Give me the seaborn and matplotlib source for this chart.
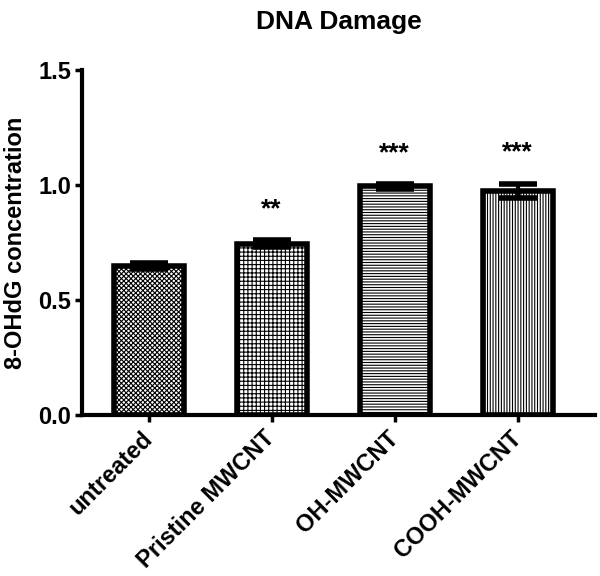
import numpy as np
import pandas as pd
import matplotlib
matplotlib.use("Agg")
import matplotlib.pyplot as plt
import seaborn as sns

# -----------------------------
# Dados
grupos = ['untreated', 'Pristine MWCNT', 'OH-MWCNT', 'COOH-MWCNT']
valores = [0.65, 0.745, 0.995, 0.975]
erros = [0.012, 0.015, 0.010, 0.032]
estrelas = ['', '**', '***', '***']
hachuras = ['xxxxxxx', '++++', '------', '||||||']

# -----------------------------
sns.set_theme(style="ticks")
plt.rcParams['font.family'] = ['Liberation Sans', 'DejaVu Sans']
plt.rcParams['hatch.linewidth'] = 0.8
for k in ['text.color', 'axes.labelcolor', 'xtick.color', 'ytick.color', 'axes.edgecolor']:
    plt.rcParams[k] = 'black'

df = pd.DataFrame({'Grupo': grupos, 'Valor': valores})

fig = plt.figure(figsize=(6, 5.76), dpi=100)
ax = fig.add_axes([0.137, 0.279, 0.855, 0.599])

sns.barplot(data=df, x='Grupo', y='Valor', color='white', width=0.57,
            edgecolor='black', linewidth=4, ax=ax)

for p, h in zip(ax.patches, hachuras):
    p.set_hatch(h)

x = np.arange(len(grupos))
ax.errorbar(x, valores, yerr=erros, fmt='none', ecolor='black',
            elinewidth=3, capsize=14, capthick=4, zorder=5)

for xi, v, e, s in zip(x, valores, erros, estrelas):
    if s:
        ax.text(xi, v + e + 0.135, s, ha='center', va='center',
                fontsize=19, fontweight='bold')

ax.set_ylim(0, 1.5)
ax.set_xlim(-0.54, 3.63)
ax.set_yticks([0, 0.5, 1.0, 1.5])
ax.set_yticklabels(['0.0', '0.5', '1.0', '1.5'])
ax.set_xlabel('')
ax.set_ylabel('8-OHdG concentration', fontsize=17, fontweight='bold', labelpad=8)
ax.set_title('DNA Damage', fontsize=19, fontweight='bold', pad=30)

plt.setp(ax.get_xticklabels(), rotation=45, ha='right', va='center',
         rotation_mode='anchor', fontsize=17, fontweight='bold')
plt.setp(ax.get_yticklabels(), fontsize=17, fontweight='bold')
ax.tick_params(axis='both', width=2.5, length=5, direction='out', pad=3)
ax.tick_params(axis='x', pad=9)

sns.despine(ax=ax)
for sp in ['left', 'bottom']:
    ax.spines[sp].set_linewidth(3)

fig.savefig('out.png', dpi=100)
